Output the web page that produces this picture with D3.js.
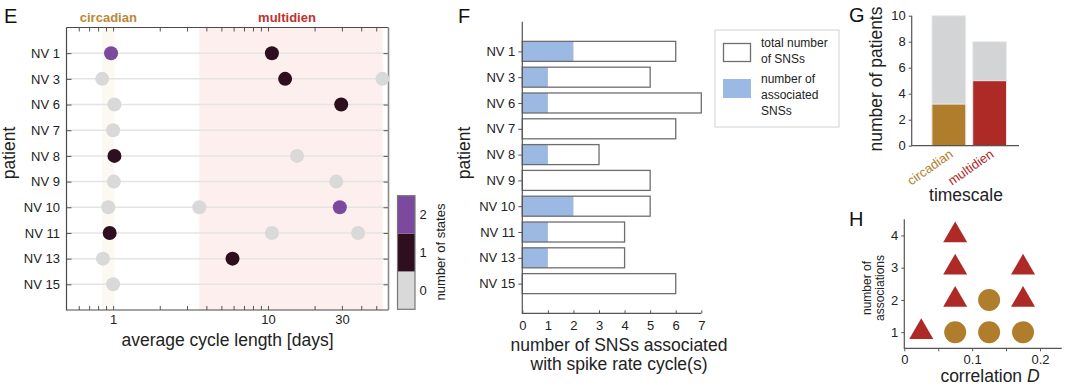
<!DOCTYPE html>
<html>
<head>
<meta charset="utf-8">
<script src="https://cdn.jsdelivr.net/npm/d3@7"></script>
<style>
    body { margin: 0; background: #fff; }
    svg { display: block; font-family: "Liberation Sans", Arial, sans-serif; }
</style>
</head>
<body>
<svg id="fig" width="1069" height="387"></svg>
<script>
// ==========================================
// DATA
// ==========================================

const patients = ['NV 1', 'NV 3', 'NV 6', 'NV 7', 'NV 8', 'NV 9', 'NV 10', 'NV 11', 'NV 13', 'NV 15'];

// E: detected spike-rate cycles per patient
const cyclePatient = ['NV 1', 'NV 1', 'NV 3', 'NV 3', 'NV 3', 'NV 6', 'NV 6', 'NV 7', 'NV 8', 'NV 8',
    'NV 9', 'NV 9', 'NV 10', 'NV 10', 'NV 10', 'NV 11', 'NV 11', 'NV 11', 'NV 13', 'NV 13', 'NV 15'];
const cycleDays = [0.97, 10.6, 0.85, 12.9, 54.8, 1.02, 29.7, 1.0, 1.02, 15.4,
    1.01, 27.6, 0.93, 3.6, 29.1, 0.95, 10.6, 38.2, 0.86, 5.9, 1.0];
const cycleStates = [2, 1, 0, 1, 0, 0, 1, 0, 1, 0,
    0, 0, 0, 0, 2, 1, 0, 0, 0, 1, 0];
const circadianRange = [0.85, 1.02];
const multidienRange = [3.6, 55];
const cycleTickLabels = [1, 10, 30];
const cycleMinorTicks = [0.6, 0.7, 0.8, 0.9, 1, 2, 3, 4, 5, 6, 7, 8, 9, 10, 20, 30, 40, 50];
const stateLevels = [0, 1, 2];

// F: SNS counts
const totalSNS = [6, 5, 7, 6, 3, 5, 5, 4, 4, 6];
const assocSNS = [2, 1, 1, 0, 1, 0, 2, 1, 1, 0];
const snsTicks = [0, 1, 2, 3, 4, 5, 6, 7];

// G: patients per timescale
const timescales = ['circadian', 'multidien'];
const patientsTotal = [10, 8];
const patientsAssoc = [3.2, 5];
const patientTicks = [0, 2, 4, 6, 8, 10];

// H: correlation vs number of associations
const corrD = [0.025, 0.075, 0.075, 0.075, 0.175, 0.175, 0.075, 0.125, 0.175, 0.125];
const nAssoc = [1, 2, 3, 4, 2, 3, 1, 1, 1, 2];
const assocScale = ['multidien', 'multidien', 'multidien', 'multidien', 'multidien', 'multidien',
    'circadian', 'circadian', 'circadian', 'circadian'];
const corrTicks = [0, 0.05, 0.1, 0.15, 0.2];
const corrTickLabels = [0, 0.1, 0.2];
const assocTicks = [1, 2, 3, 4];

// ==========================================
// STYLE
// ==========================================

const COLORS = {
    text: '#222',
    axis: '#555',
    grid: '#e4e4e4',
    states: ['#d9d9da', '#2d0f20', '#7b4a9f'],
    circadianBand: '#fbf9f1',
    multidienBand: '#fcefed',
    circadian: '#b07d2d',
    multidien: '#ae2a26',
    snsBlue: '#9bb9e2',
    snsEdge: '#6e6e6e',
    patientsGray: '#d3d4d6'
};

const svg = d3.select('#fig');
const plain = d => String(d);

function styleAxis(g, size = 13) {
    g.select('.domain').remove();
    g.selectAll('line').attr('stroke', COLORS.axis);
    g.selectAll('text').attr('fill', COLORS.text).attr('font-size', size);
    return g;
}

function panelLetter(x, y, txt) {
    svg.append('text').attr('x', x).attr('y', y).attr('font-size', 20)
        .attr('fill', '#111').text(txt);
}

function vLabel(x, y, txt, size) {
    return svg.append('text')
        .attr('transform', `translate(${x},${y}) rotate(-90)`)
        .attr('text-anchor', 'middle')
        .attr('font-size', size)
        .attr('fill', COLORS.text)
        .text(txt);
}

// ==========================================
// PANEL E
// ==========================================

function drawPanelE() {
    const x = d3.scaleLog().domain([0.5, 60]).range([66.5, 388.5]);
    const y = d3.scaleLinear().domain([0, 11]).range([27.5, 310]);
    const [x0, x1] = x.range();
    const [y0, y1] = y.range();
    const g = svg.append('g');

    g.append('rect')
        .attr('x', x(circadianRange[0])).attr('y', y0)
        .attr('width', x(circadianRange[1]) - x(circadianRange[0])).attr('height', y1 - y0)
        .attr('fill', COLORS.circadianBand);
    g.append('rect')
        .attr('x', x(multidienRange[0])).attr('y', y0)
        .attr('width', x(multidienRange[1]) - x(multidienRange[0])).attr('height', y1 - y0)
        .attr('fill', COLORS.multidienBand);

    patients.forEach((p, i) => {
        g.append('line')
            .attr('x1', x0).attr('x2', x1)
            .attr('y1', y(i + 1)).attr('y2', y(i + 1))
            .attr('stroke', COLORS.grid).attr('stroke-width', 1.5);
    });

    // axes (box, inward ticks)
    styleAxis(g.append('g').attr('transform', `translate(0,${y1})`)
        .call(d3.axisBottom(x).tickValues(cycleMinorTicks).tickSize(-4).tickPadding(5)
            .tickFormat(d => cycleTickLabels.includes(d) ? String(d) : '')));
    styleAxis(g.append('g').attr('transform', `translate(0,${y0})`)
        .call(d3.axisTop(x).tickValues(cycleMinorTicks).tickSize(-4).tickFormat('')));
    styleAxis(g.append('g').attr('transform', `translate(${x0},0)`)
        .call(d3.axisLeft(y).tickValues(d3.range(1, 11)).tickSize(-5).tickPadding(6.5)
            .tickFormat(i => patients[i - 1])));
    styleAxis(g.append('g').attr('transform', `translate(${x1},0)`)
        .call(d3.axisRight(y).tickValues(d3.range(1, 11)).tickSize(-5).tickFormat('')));

    g.append('path')
        .attr('d', `M${x0},${y0}H${x1}M${x0},${y0}V${y1}H${x1}`)
        .attr('fill', 'none').attr('stroke', '#4a4a4a').attr('stroke-width', 1.2);
    g.append('line')
        .attr('x1', x1).attr('x2', x1).attr('y1', y0).attr('y2', y1)
        .attr('stroke', '#8a8a8a').attr('stroke-width', 1.6);

    // cycles
    cycleDays.forEach((d, i) => {
        g.append('circle')
            .attr('cx', x(d))
            .attr('cy', y(patients.indexOf(cyclePatient[i]) + 1))
            .attr('r', 7)
            .attr('fill', COLORS.states[cycleStates[i]]);
    });

    // timescale headers
    g.append('text').attr('x', x(Math.sqrt(circadianRange[0] * circadianRange[1]))).attr('y', 22)
        .attr('text-anchor', 'middle').attr('font-size', 13).attr('font-weight', 'bold')
        .attr('fill', '#b98a35').text('circadian');
    g.append('text').attr('x', 287).attr('y', 22)
        .attr('text-anchor', 'middle').attr('font-size', 13).attr('font-weight', 'bold')
        .attr('fill', '#c0322c').text('multidien');

    g.append('text').attr('x', (x0 + x1) / 2).attr('y', 346)
        .attr('text-anchor', 'middle').attr('font-size', 17.5).attr('fill', COLORS.text)
        .text('average cycle length [days]');
    vLabel(15, 153, 'patient', 17.5);

    // colorbar
    const cb = d3.scaleLinear().domain([-0.5, 2.5]).range([309.3, 195.7]);
    stateLevels.forEach(s => {
        g.append('rect')
            .attr('x', 397.5).attr('y', cb(s + 0.5))
            .attr('width', 17.5).attr('height', cb(s - 0.5) - cb(s + 0.5))
            .attr('fill', COLORS.states[s]);
    });
    g.append('rect').attr('x', 397.5).attr('y', cb(2.5)).attr('width', 17.5)
        .attr('height', cb(-0.5) - cb(2.5))
        .attr('fill', 'none').attr('stroke', '#777').attr('stroke-width', 1.2);
    styleAxis(g.append('g').attr('transform', 'translate(415,0)')
        .call(d3.axisRight(cb).tickValues(stateLevels).tickSize(0).tickPadding(4.5).tickFormat(plain)));
    vLabel(445, 252, 'number of states', 13);
}

// ==========================================
// PANEL F
// ==========================================

function drawPanelF() {
    const x = d3.scaleLinear().domain([0, 7]).range([522.3, 701.3]);
    const y = d3.scaleLinear().domain([-0.15, 11.15]).range([21.7, 313.3]);
    const barH = 20;
    const g = svg.append('g');

    totalSNS.forEach((t, i) => {
        const cy = y(i + 1);
        g.append('rect')
            .attr('x', x(0)).attr('y', cy - barH / 2)
            .attr('width', x(assocSNS[i]) - x(0)).attr('height', barH)
            .attr('fill', COLORS.snsBlue);
        g.append('rect')
            .attr('x', x(0)).attr('y', cy - barH / 2)
            .attr('width', x(t) - x(0)).attr('height', barH)
            .attr('fill', 'none').attr('stroke', COLORS.snsEdge).attr('stroke-width', 1.3);
    });

    styleAxis(g.append('g').attr('transform', `translate(${x(0)},0)`)
        .call(d3.axisLeft(y).tickValues(d3.range(1, 11)).tickSize(4).tickPadding(3)
            .tickFormat(i => patients[i - 1])));
    styleAxis(g.append('g').attr('transform', `translate(0,${y.range()[1]})`)
        .call(d3.axisBottom(x).tickValues(snsTicks).tickSize(-3).tickPadding(7).tickFormat(plain)));
    g.append('path')
        .attr('d', `M${x(0)},${y.range()[0]}V${y.range()[1]}H${x(7)}`)
        .attr('fill', 'none').attr('stroke', COLORS.axis).attr('stroke-width', 1.2);

    g.append('text').attr('x', 619).attr('y', 351)
        .attr('text-anchor', 'middle').attr('font-size', 17.5).attr('fill', COLORS.text)
        .text('number of SNSs associated');
    g.append('text').attr('x', 619).attr('y', 370)
        .attr('text-anchor', 'middle').attr('font-size', 17.5).attr('fill', COLORS.text)
        .text('with spike rate cycle(s)');
    vLabel(470, 153, 'patient', 17.5);

    // legend
    const lg = g.append('g');
    lg.append('rect').attr('x', 715).attr('y', 30).attr('width', 124).attr('height', 97)
        .attr('fill', '#fff').attr('stroke', '#d2d2d2');
    lg.append('rect').attr('x', 723.5).attr('y', 43.5).attr('width', 27).attr('height', 18)
        .attr('fill', 'none').attr('stroke', COLORS.snsEdge).attr('stroke-width', 1.3);
    lg.append('rect').attr('x', 723).attr('y', 79).attr('width', 28).attr('height', 19)
        .attr('fill', COLORS.snsBlue);
    const lines = [['total number', 47], ['of SNSs', 63], ['number of', 83], ['associated', 99], ['SNSs', 115]];
    lines.forEach(([t, yy]) => {
        lg.append('text').attr('x', 761).attr('y', yy).attr('font-size', 12)
            .attr('fill', COLORS.text).text(t);
    });
}

// ==========================================
// PANEL G
// ==========================================

function drawPanelG() {
    const x = d3.scaleLinear().domain([0.09, 2.72]).range([911.7, 1019]);
    const y = d3.scaleLinear().domain([0, 10]).range([145.7, 15.7]);
    const bw = 0.83;
    const colors = [COLORS.circadian, COLORS.multidien];
    const g = svg.append('g');

    timescales.forEach((t, i) => {
        const left = x(i + 1 - bw / 2);
        const w = x(i + 1 + bw / 2) - left;
        g.append('rect').attr('x', left).attr('y', y(patientsTotal[i]))
            .attr('width', w).attr('height', y(0) - y(patientsTotal[i]))
            .attr('fill', COLORS.patientsGray).attr('stroke', '#ececec').attr('stroke-width', 1);
        g.append('rect').attr('x', left).attr('y', y(patientsAssoc[i]))
            .attr('width', w).attr('height', y(0) - y(patientsAssoc[i]))
            .attr('fill', colors[i]).attr('stroke', '#ececec').attr('stroke-width', 1);
        g.append('text')
            .attr('transform', `translate(${x(i + 1) + 5},${156}) rotate(-35)`)
            .attr('text-anchor', 'end').attr('font-size', 13)
            .attr('fill', colors[i]).text(t);
    });

    styleAxis(g.append('g').attr('transform', `translate(${x.range()[0]},0)`)
        .call(d3.axisLeft(y).tickValues(patientTicks).tickSize(3).tickPadding(3).tickFormat(plain)));
    g.append('path')
        .attr('d', `M${x.range()[0]},${y.range()[1]}V${y(0)}H${x.range()[1]}`)
        .attr('fill', 'none').attr('stroke', COLORS.axis).attr('stroke-width', 1.2);

    g.append('text').attr('x', 966).attr('y', 201)
        .attr('text-anchor', 'middle').attr('font-size', 17.5).attr('fill', COLORS.text)
        .text('timescale');
    vLabel(882, 79, 'number of patients', 17.5);
}

// ==========================================
// PANEL H
// ==========================================

function drawPanelH() {
    const x = d3.scaleLinear().domain([0, 0.232]).range([904.3, 1061.7]);
    const y = d3.scaleLinear().domain([0.5, 4.5]).range([348.3, 219.3]);
    const g = svg.append('g');

    styleAxis(g.append('g').attr('transform', `translate(0,${y.range()[0]})`)
        .call(d3.axisBottom(x).tickValues(corrTicks).tickSize(3).tickPadding(3)
            .tickFormat(d => corrTickLabels.includes(d) ? String(d) : '')));
    styleAxis(g.append('g').attr('transform', `translate(${x.range()[0]},0)`)
        .call(d3.axisLeft(y).tickValues(assocTicks).tickSize(3).tickPadding(3).tickFormat(plain)));
    g.append('path')
        .attr('d', `M${x.range()[0]},${y.range()[1]}V${y.range()[0]}H${x.range()[1]}`)
        .attr('fill', 'none').attr('stroke', COLORS.axis).attr('stroke-width', 1.2);

    const tri = d3.symbol().type(d3.symbolTriangle).size(250);
    corrD.forEach((c, i) => {
        if (assocScale[i] === 'multidien') {
            g.append('path').attr('d', tri)
                .attr('transform', `translate(${x(c)},${y(nAssoc[i])})`)
                .attr('fill', COLORS.multidien);
        } else {
            g.append('circle').attr('cx', x(c)).attr('cy', y(nAssoc[i])).attr('r', 11)
                .attr('fill', COLORS.circadian);
        }
    });

    const lbl = g.append('text').attr('x', 990).attr('y', 382)
        .attr('text-anchor', 'middle').attr('font-size', 17.5).attr('fill', COLORS.text);
    lbl.append('tspan').text('correlation ');
    lbl.append('tspan').attr('font-style', 'italic').text('D');
    vLabel(871, 288, 'number of', 12);
    vLabel(884, 288, 'associations', 12);
}

panelLetter(4, 23, 'E');
panelLetter(458, 23, 'F');
panelLetter(849, 22, 'G');
panelLetter(849, 226, 'H');

drawPanelE();
drawPanelF();
drawPanelG();
drawPanelH();
</script>
</body>
</html>
